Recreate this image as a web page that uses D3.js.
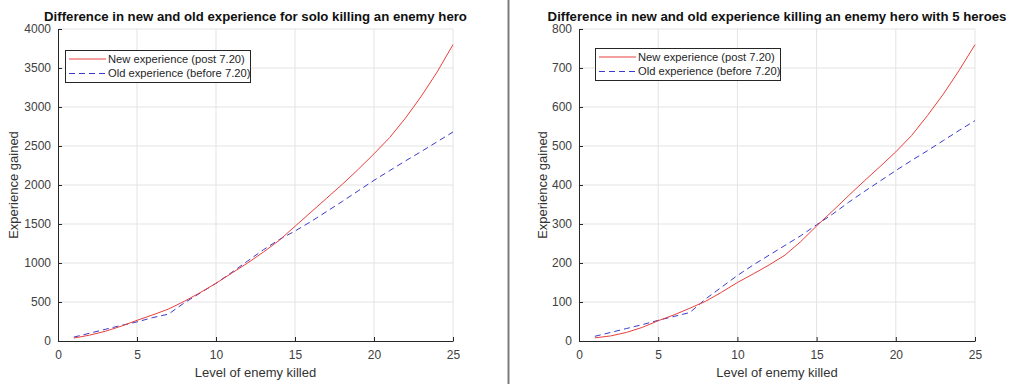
<!DOCTYPE html>
<html>
<head>
<meta charset="utf-8">
<script src="https://cdn.jsdelivr.net/npm/d3@7"></script>
<style>
    body { margin: 0; background: #fff; }
    svg { display: block; font-family: "Liberation Sans", Arial, sans-serif; }
</style>
</head>
<body>
<div class="displayArea"></div>
<script>
// levels of the killed hero
const levels = d3.range(1, 26);

// solo kill
const soloNew = [38, 75, 125, 190, 265, 335, 410, 510, 620, 740, 870, 1000, 1140, 1290, 1470,
    1650, 1830, 2010, 2200, 2400, 2610, 2860, 3140, 3450, 3800];
const soloOld = [50, 100, 150, 200, 245, 300, 345, 490, 615, 740, 880, 1025, 1170, 1300, 1410,
    1530, 1660, 1790, 1925, 2060, 2185, 2310, 2430, 2555, 2680];

// kill shared with 5 heroes
const fiveNew = [8, 13, 22, 35, 52, 67, 84, 102, 125, 150, 172, 195, 220, 255, 295,
    333, 372, 410, 447, 485, 527, 578, 633, 694, 760];
const fiveOld = [12, 22, 32, 42, 53, 63, 73, 108, 138, 168, 195, 220, 245, 270, 298,
    325, 355, 383, 410, 437, 463, 488, 514, 540, 565];

const xTicks = [0, 5, 10, 15, 20, 25];
const soloYTicks = d3.range(0, 4001, 500);
const fiveYTicks = d3.range(0, 801, 100);

const titles = [
    "Difference in new and old experience for solo killing an enemy hero",
    "Difference in new and old experience killing an enemy hero with 5 heroes"
];
const legendLabels = ["New experience (post 7.20)", "Old experience (before 7.20)"];

const W = 1024, H = 384;
const axisColor = "#262626";
const newColor = "#e8403c";
const oldColor = "#3a3ad0";

const svg = d3.select(".displayArea").append("svg")
    .attr("width", W)
    .attr("height", H);

svg.append("rect")
    .attr("width", W)
    .attr("height", H)
    .attr("fill", "#fff");

// separator between the two figures
svg.append("line")
    .attr("x1", 508.5).attr("x2", 508.5)
    .attr("y1", 0).attr("y2", H)
    .attr("stroke", "#7c7c7c")
    .attr("stroke-width", 2);

function drawPanel(p) {
    const x = d3.scaleLinear().domain([0, 25]).range([p.left, p.right]);
    const y = d3.scaleLinear().domain([0, p.yMax]).range([341, 29]);
    const g = svg.append("g");

    // grid
    g.append("g").selectAll("line")
        .data(xTicks.slice(1))
        .enter().append("line")
        .attr("x1", d => x(d)).attr("x2", d => x(d))
        .attr("y1", y(0)).attr("y2", y(p.yMax))
        .attr("stroke", "#e3e3e3");

    g.append("g").selectAll("line")
        .data(p.yTicks.slice(1))
        .enter().append("line")
        .attr("x1", x(0)).attr("x2", x(25))
        .attr("y1", d => y(d)).attr("y2", d => y(d))
        .attr("stroke", "#e3e3e3");

    // axes, ticks pointing inward
    const xAxis = g.append("g")
        .attr("transform", `translate(0,${y(0)})`)
        .call(d3.axisBottom(x).tickValues(xTicks).tickFormat(d3.format("d"))
            .tickSizeInner(-4).tickSizeOuter(0).tickPadding(9));
    const yAxis = g.append("g")
        .attr("transform", `translate(${x(0)},0)`)
        .call(d3.axisLeft(y).tickValues(p.yTicks).tickFormat(d3.format("d"))
            .tickSizeInner(-4).tickSizeOuter(0).tickPadding(7));

    [xAxis, yAxis].forEach(a => {
        a.select(".domain").attr("stroke", axisColor).attr("stroke-width", 1);
        a.selectAll(".tick line").attr("stroke", axisColor);
        a.selectAll(".tick text")
            .attr("fill", "#404040")
            .style("font-size", "12px")
            .style("font-family", "'Liberation Sans', Arial, sans-serif");
    });

    // lines
    const line = d3.line()
        .x((d, i) => x(levels[i]))
        .y(d => y(d));

    g.append("path")
        .datum(p.oldVals)
        .attr("d", line)
        .attr("fill", "none")
        .attr("stroke", oldColor)
        .attr("stroke-width", 1)
        .attr("stroke-dasharray", "6,4");

    g.append("path")
        .datum(p.newVals)
        .attr("d", line)
        .attr("fill", "none")
        .attr("stroke", newColor)
        .attr("stroke-width", 1);

    // title and labels
    g.append("text")
        .attr("x", (p.left + p.right) / 2)
        .attr("y", 21)
        .attr("text-anchor", "middle")
        .attr("font-weight", "bold")
        .attr("font-size", 13.2)
        .attr("fill", "#111")
        .text(p.title);

    g.append("text")
        .attr("x", (p.left + p.right) / 2)
        .attr("y", 377)
        .attr("text-anchor", "middle")
        .attr("font-size", 13)
        .attr("fill", "#333")
        .text("Level of enemy killed");

    g.append("text")
        .attr("transform", `translate(${p.yLabelX},185) rotate(-90)`)
        .attr("text-anchor", "middle")
        .attr("dy", "0.35em")
        .attr("font-size", 13)
        .attr("fill", "#333")
        .text("Experience gained");

    // legend
    const lg = g.append("g")
        .attr("transform", `translate(${p.legendX},${p.legendY})`);

    lg.append("rect")
        .attr("x", 0.5).attr("y", 0.5)
        .attr("width", 185).attr("height", 32)
        .attr("fill", "#fff")
        .attr("stroke", axisColor);

    const rows = lg.selectAll(".legendRow")
        .data([
            { label: legendLabels[0], color: newColor, dash: null },
            { label: legendLabels[1], color: oldColor, dash: "6,4" }
        ])
        .enter().append("g")
        .attr("class", "legendRow")
        .attr("transform", (d, i) => `translate(0,${9 + i * 14.5})`);

    rows.append("line")
        .attr("x1", 4).attr("x2", 41)
        .attr("stroke", d => d.color)
        .attr("stroke-dasharray", d => d.dash);

    rows.append("text")
        .attr("x", 43)
        .attr("dy", "0.35em")
        .attr("font-size", 11.2)
        .attr("fill", "#262626")
        .text(d => d.label);
}

drawPanel({
    left: 58, right: 453, yMax: 4000, yTicks: soloYTicks,
    newVals: soloNew, oldVals: soloOld, title: titles[0],
    yLabelX: 13, legendX: 65, legendY: 50
});

drawPanel({
    left: 579, right: 975, yMax: 800, yTicks: fiveYTicks,
    newVals: fiveNew, oldVals: fiveOld, title: titles[1],
    yLabelX: 542, legendX: 595, legendY: 48
});
</script>
</body>
</html>
